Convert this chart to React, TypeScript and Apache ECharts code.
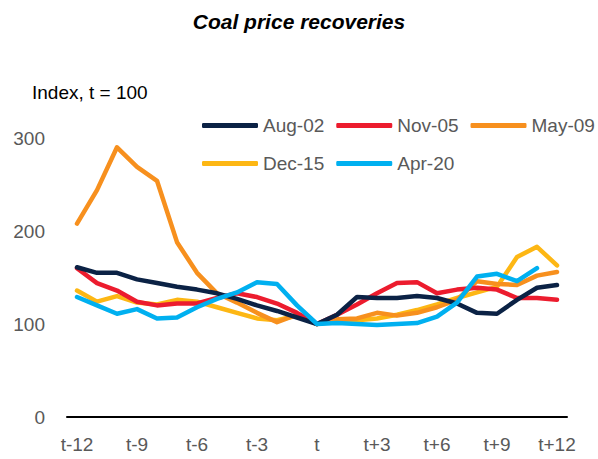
import React, { useEffect, useRef } from "react";
import * as echarts from "echarts";

const categories = [
  "t-12", "t-11", "t-10", "t-9", "t-8", "t-7", "t-6", "t-5", "t-4", "t-3", "t-2", "t-1",
  "t", "t+1", "t+2", "t+3", "t+4", "t+5", "t+6", "t+7", "t+8", "t+9", "t+10", "t+11", "t+12",
];

const aug02 = [161, 155, 155, 148, 144, 140, 137, 133, 127, 120, 114, 107, 100, 110, 129, 128, 128, 130, 128, 122, 112, 111, 126, 139, 142];
const nov05 = [160, 144, 136, 124, 120, 122, 122, 128, 133, 129, 122, 112, 100, 110, 121, 133, 144, 145, 133, 137, 139, 137, 128, 128, 126];
const may09 = [208, 244, 290, 269, 254, 188, 155, 133, 123, 112, 102, 110, 100, 105, 106, 112, 109, 112, 118, 126, 146, 143, 142, 152, 156];
const dec15 = [136, 124, 130, 123, 121, 126, 124, 118, 112, 106, 104, 109, 100, 103, 104, 106, 110, 115, 121, 128, 134, 140, 172, 183, 163];
const apr20 = [129, 120, 111, 116, 106, 107, 118, 127, 134, 145, 143, 120, 100, 101, 100, 99, 100, 101, 108, 123, 151, 154, 146, 160, null];

const seriesNames = ["Aug-02", "Nov-05", "May-09", "Dec-15", "Apr-20"];
const seriesData = [aug02, nov05, may09, dec15, apr20];
const colors = ["#0b2245", "#ec1c2e", "#f7901e", "#fdb714", "#00b0f0"];

const FONT = "'Liberation Sans', Arial, sans-serif";

export default function App() {
  const ref = useRef<HTMLDivElement>(null);
  useEffect(() => {
    if (!ref.current) return;
    const chart = echarts.init(ref.current, null, { renderer: "svg" });
    const legendCommon = {
      icon: "roundRect",
      itemWidth: 56,
      itemHeight: 5,
      itemGap: 12,
      left: 197,
      width: 400,
      orient: "horizontal",
      textStyle: { fontSize: 19, color: "#595959", fontFamily: FONT },
      selectedMode: false,
    };
    chart.setOption({
      animation: false,
      color: colors,
      textStyle: { fontFamily: FONT },
      title: {
        text: "Coal price recoveries",
        left: "center",
        top: 6,
        textStyle: {
          fontSize: 21,
          fontWeight: "bold",
          fontStyle: "italic",
          color: "#000",
          fontFamily: FONT,
        },
      },
      graphic: [
        {
          type: "text",
          left: 32,
          top: 83,
          style: { text: "Index, t = 100", fontSize: 19, fill: "#000", fontFamily: FONT },
        },
      ],
      legend: [
        { ...legendCommon, top: 111, data: seriesNames.slice(0, 3) },
        { ...legendCommon, top: 149, data: seriesNames.slice(3) },
      ],
      grid: { left: 67, right: 31, top: 138, bottom: 42, containLabel: false },
      xAxis: {
        type: "category",
        data: categories,
        boundaryGap: true,
        axisLine: { show: true, lineStyle: { color: "#000", width: 2 } },
        axisTick: { show: false },
        axisLabel: {
          interval: 2,
          margin: 18,
          fontSize: 19,
          color: "#595959",
          fontFamily: FONT,
        },
        splitLine: { show: false },
      },
      yAxis: {
        type: "value",
        min: 0,
        max: 300,
        interval: 100,
        axisLine: { show: false },
        axisTick: { show: false },
        splitLine: { show: false },
        axisLabel: { margin: 22, fontSize: 19, color: "#595959", fontFamily: FONT },
      },
      series: seriesNames.map((name, i) => ({
        name,
        type: "line",
        data: seriesData[i],
        showSymbol: false,
        symbol: "none",
        lineStyle: { width: 4.5, color: colors[i], cap: "round", join: "round" },
        itemStyle: { color: colors[i] },
        z: i === 4 ? 10 : 5 - i,
      })),
    });
    return () => chart.dispose();
  }, []);
  return (
    <div
      ref={ref}
      style={{ position: "fixed", left: 0, top: 0, width: 598, height: 459, background: "#fff" }}
    />
  );
}
